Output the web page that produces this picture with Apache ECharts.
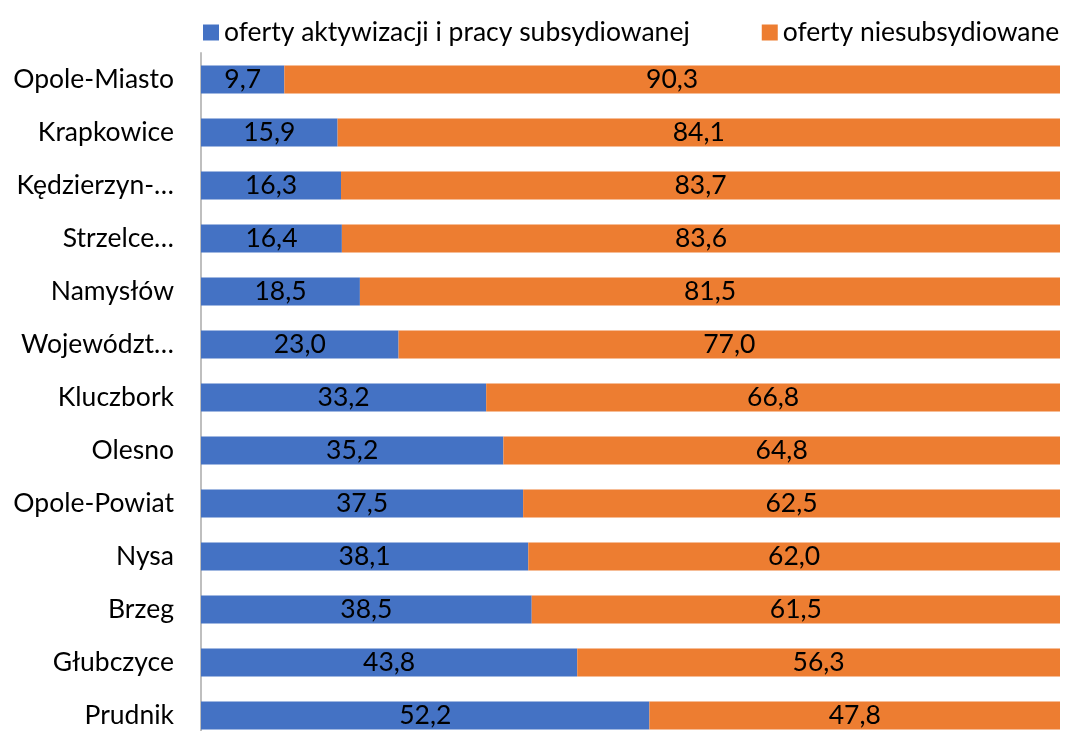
<!DOCTYPE html>
<html lang="pl">
<head>
  <meta charset="utf-8">
  <style>
    body { margin: 0; background: #fff; }
    #container { width: 1076px; height: 731px; }
  </style>
</head>
<body>
  <div id="container"></div>
  <script src="https://cdn.jsdelivr.net/npm/echarts@6/dist/echarts.min.js"></script>
  <script>
    // kategorie od góry do dołu
    var categories = ['Opole-Miasto', 'Krapkowice', 'Kędzierzyn-…', 'Strzelce…', 'Namysłów', 'Województ…',
      'Kluczbork', 'Olesno', 'Opole-Powiat', 'Nysa', 'Brzeg', 'Głubczyce', 'Prudnik']
    var subsydiowane = [9.7, 15.9, 16.3, 16.4, 18.5, 23.0, 33.2, 35.2, 37.5, 38.1, 38.5, 43.8, 52.2]
    var niesubsydiowane = [90.3, 84.1, 83.7, 83.6, 81.5, 77.0, 66.8, 64.8, 62.5, 62.0, 61.5, 56.3, 47.8]

    var font = 'Lato, "Open Sans", sans-serif'
    var fs = 26.5
    var chart = echarts.init(document.getElementById('container'), null, { renderer: 'canvas' })

    function fmt(p) {
      return p.value.toFixed(1).replace('.', ',')
    }

    var labelStyle = {
      show: true,
      position: 'inside',
      color: '#000',
      fontSize: fs,
      fontFamily: font,
      formatter: fmt
    }

    chart.setOption({
      animation: false,
      color: ['#4472C4', '#ED7D31'],
      legend: {
        top: 14,
        left: 198,
        itemWidth: 16,
        itemHeight: 16,
        itemGap: 72,
        icon: 'rect',
        textStyle: { fontSize: fs, fontFamily: font, color: '#000' }
      },
      grid: { left: 201, right: 16, top: 53, height: 689, outerBoundsMode: 'none', containLabel: false },
      xAxis: {
        type: 'value',
        min: 0,
        max: 100,
        show: false
      },
      yAxis: {
        type: 'category',
        inverse: true,
        data: categories,
        axisLine: { show: true, lineStyle: { color: '#BFBFBF', width: 2 } },
        axisTick: { show: false },
        axisLabel: { fontSize: fs, fontFamily: font, color: '#000', margin: 27 }
      },
      series: [
        {
          name: 'oferty aktywizacji i pracy subsydiowanej',
          type: 'bar',
          stack: 'total',
          data: subsydiowane,
          barCategoryGap: '47%',
          label: labelStyle
        },
        {
          name: 'oferty niesubsydiowane',
          type: 'bar',
          stack: 'total',
          data: niesubsydiowane,
          barCategoryGap: '47%',
          label: labelStyle
        }
      ]
    })
    window.addEventListener('resize', chart.resize)
  </script>
</body>
</html>
